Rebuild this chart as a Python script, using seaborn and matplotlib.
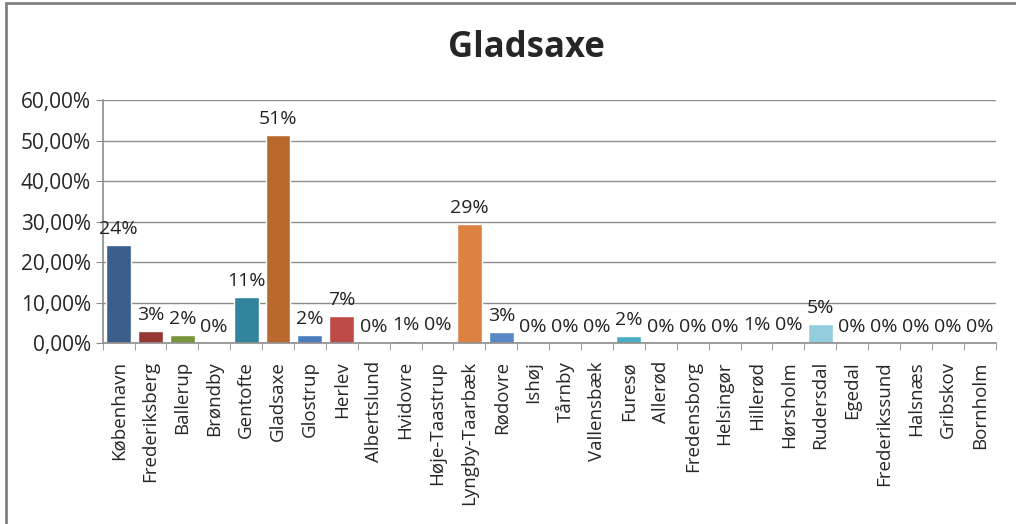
import numpy as np
import seaborn as sns
import matplotlib.pyplot as plt
import pandas as pd
from matplotlib.ticker import FuncFormatter, FixedLocator
from matplotlib.lines import Line2D

# Kommuner (categories) and share of answers for Gladsaxe
kommuner = ["København", "Frederiksberg", "Ballerup", "Brøndby", "Gentofte", "Gladsaxe",
            "Glostrup", "Herlev", "Albertslund", "Hvidovre", "Høje-Taastrup", "Lyngby-Taarbæk",
            "Rødovre", "Ishøj", "Tårnby", "Vallensbæk", "Furesø", "Allerød", "Fredensborg",
            "Helsingør", "Hillerød", "Hørsholm", "Rudersdal", "Egedal", "Frederikssund",
            "Halsnæs", "Gribskov", "Bornholm"]
andel = [0.242, 0.030, 0.019, 0.0, 0.114, 0.514,
         0.019, 0.067, 0.0, 0.006, 0.004, 0.294,
         0.027, 0.0, 0.0, 0.0, 0.017, 0.0, 0.0,
         0.0, 0.006, 0.004, 0.046, 0.0, 0.0,
         0.0, 0.0, 0.0]
farver = ["#3B5E8B", "#953735", "#77933C", "#604A7B", "#31849B", "#B9692E",
          "#4A7EBB", "#BE4B48", "#98B954", "#7D60A0", "#46AAC5", "#DC8240",
          "#5A88C6", "#C0504D", "#9BBB59", "#8064A2", "#4BACC6", "#F79646", "#4F81BD",
          "#D99694", "#C3D69B", "#B3A2C7", "#93CDDD", "#FAC090", "#95B3D7",
          "#E6B9B8", "#D7E4BD", "#CCC1DA"]

df = pd.DataFrame({"kommune": kommuner, "andel": andel})

sns.set_style("white")
plt.rcParams['font.family'] = ['Open Sans', 'DejaVu Sans']

fig = plt.figure(figsize=(10.16, 5.24), dpi=100)
ax = fig.add_axes([0.101, 0.3454, 0.879, 0.4637])

sns.barplot(data=df, x="kommune", y="andel", hue="kommune", palette=farver,
            legend=False, width=0.78, saturation=1, ax=ax)

# Data labels above bars, rounded to whole percent
for i, v in enumerate(andel):
    ax.annotate(f"{v*100:.0f}%", (i, v), xytext=(0, 5), textcoords="offset points",
                ha="center", va="bottom", fontsize=14, color="#222222")

ax.set_xlim(-0.5, len(kommuner) - 0.5)
ax.set_ylim(0, 0.6)
ax.set_yticks(np.arange(0, 0.61, 0.1))
ax.yaxis.set_major_formatter(FuncFormatter(lambda y, p: f"{y*100:.2f}%".replace(".", ",")))
ax.yaxis.grid(True, color="#8c8c8c", linewidth=1)
ax.set_axisbelow(True)

ax.set_xticks(range(len(kommuner)))
ax.set_xticklabels(kommuner, rotation=90, fontsize=13.5)
ax.xaxis.set_minor_locator(FixedLocator(np.arange(-0.5, len(kommuner), 1)))
ax.tick_params(axis="x", which="major", length=0, pad=13)
ax.tick_params(axis="x", which="minor", length=5, color="#8c8c8c", direction="out", bottom=True)
ax.tick_params(axis="y", length=5, color="#8c8c8c", direction="out", left=True, labelsize=15)
ax.set_xlabel("")
ax.set_ylabel("")

for side in ["top", "right"]:
    ax.spines[side].set_visible(False)
for side in ["left", "bottom"]:
    ax.spines[side].set_color("#8c8c8c")
    ax.spines[side].set_linewidth(1.2)

fig.text(0.518, 0.908, "Gladsaxe", ha="center", va="center", fontsize=25, fontweight="bold")

# Chart border (top and left edges are visible in the reference)
fig.add_artist(Line2D([0.006, 1.0], [0.994, 0.994], color="#808080", linewidth=2))
fig.add_artist(Line2D([0.006, 0.006], [0.0, 0.994], color="#808080", linewidth=2))

plt.savefig("out.png", dpi=100)
plt.close()
